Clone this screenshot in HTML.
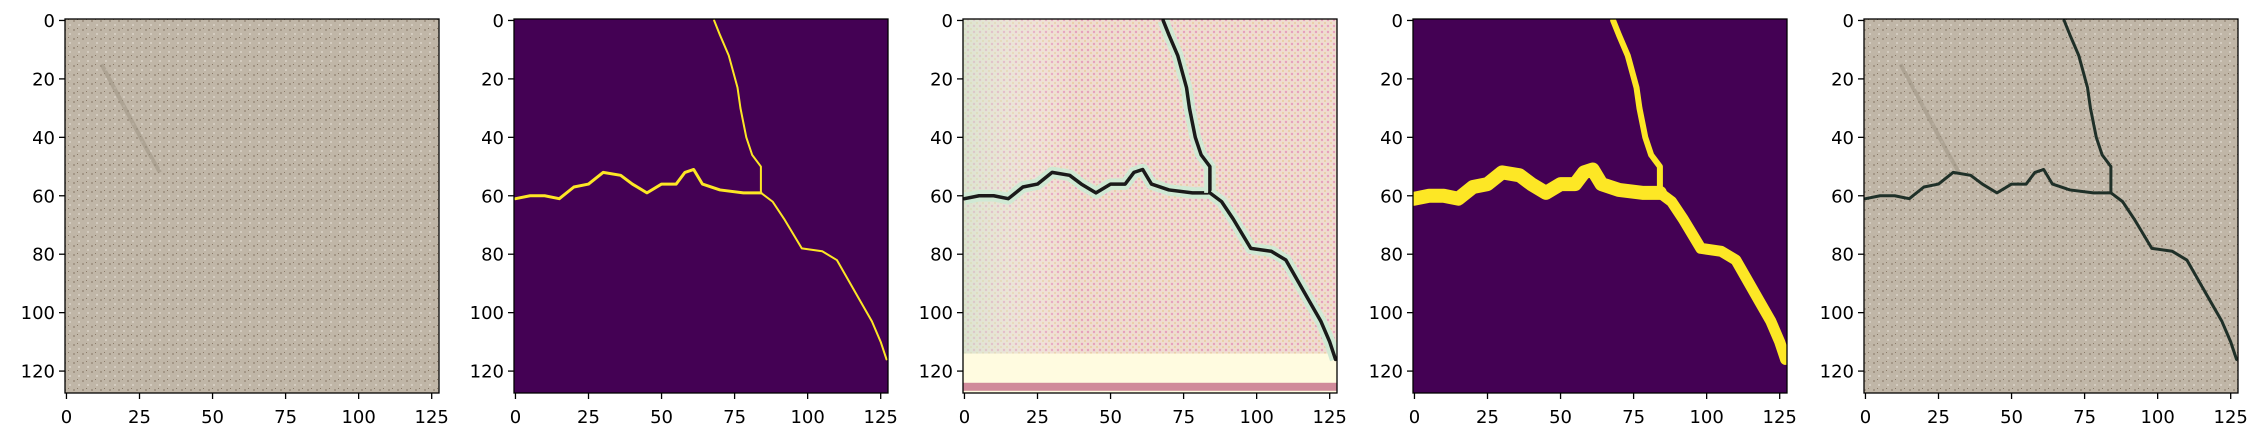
<!DOCTYPE html>
<html><head><meta charset="utf-8">
<style>
html,body{margin:0;padding:0;background:#fff;}
svg{display:block;}
text{font-family:"DejaVu Sans","Liberation Sans",sans-serif;font-size:18px;fill:#000;}
</style></head>
<body>
<svg id="fig" width="2259" height="440" viewBox="0 0 2259 440" xmlns="http://www.w3.org/2000/svg">
<defs>
<pattern id="speck" width="9" height="9" patternUnits="userSpaceOnUse">
<rect width="9" height="9" fill="#c0b6a7"/>
<rect x="1" y="2" width="2" height="2" fill="#a39686"/>
<rect x="6" y="6" width="2" height="2" fill="#d4ccc0"/>
<rect x="5" y="1" width="1" height="1" fill="#8a7a68"/>
</pattern>
<pattern id="dots" width="6" height="6" patternUnits="userSpaceOnUse">
<rect width="6" height="6" fill="#efdcd0"/>
<circle cx="2" cy="2" r="1.2" fill="#e6a0bc"/>
<circle cx="5" cy="5" r="1" fill="#e8cc9e"/>
</pattern>
<linearGradient id="greenish" x1="0" y1="0" x2="1" y2="0">
<stop offset="0" stop-color="#cfe8cf" stop-opacity="0.6"/>
<stop offset="0.3" stop-color="#ffffff" stop-opacity="0"/>
</linearGradient>
</defs>
</svg>
<script>
// Crack path (image data coordinates, x = column, y = row)
const mainCrackX = [0, 5, 10, 15, 20, 25, 30, 36, 40, 45, 50, 55, 58, 61, 64, 70, 78, 84];
const mainCrackY = [61, 60, 60, 61, 57, 56, 52, 53, 56, 59, 56, 56, 52, 51, 56, 58, 59, 59];
const upperCrackX = [84, 84, 81, 79, 77, 76, 73, 70, 68];
const upperCrackY = [59, 50, 46, 40, 30, 23, 12, 5, 0];
const lowerCrackX = [84, 88, 92, 95, 98, 105, 110, 114, 118, 122, 125, 127];
const lowerCrackY = [59, 62, 68, 73, 78, 79, 82, 89, 96, 103, 110, 116];
const xTicks = [0, 25, 50, 75, 100, 125];
const yTicks = [0, 20, 40, 60, 80, 100, 120];
const panelKinds = ["input", "label", "generated", "prediction", "overlay"];

const NS = "http://www.w3.org/2000/svg";
const svg = document.getElementById("fig");
const TOP = 19, SIZE = 374, N = 128;
const lefts = [65, 514, 963, 1413, 1864];
function mk(tag, attrs, parent){const e=document.createElementNS(NS,tag);for(const k in attrs)e.setAttribute(k,attrs[k]);(parent||svg).appendChild(e);return e;}
function pts(xs, ys, sx, sy){return xs.map((x,i)=>sx(x)+","+sy(ys[i])).join(" ");}

panelKinds.forEach((kind, p) => {
  const L = lefts[p];
  const sx = v => L + (v + 0.5) * SIZE / N;
  const sy = v => TOP + (v + 0.5) * SIZE / N;
  const g = mk("g", {});
  
  
  const clip = mk("clipPath", {id: "c" + p}, g);
  mk("rect", {x: L, y: TOP, width: SIZE, height: SIZE}, clip);
  const img = mk("g", {"clip-path": "url(#c" + p + ")"}, g);
  
  
  let bg = "#bcb2a3", stroke = null, w = 2;
  if (kind === "input") { bg = "url(#speck)"; }
  if (kind === "label") { bg = "#440154"; stroke = "#fde725"; w = 3; }
  if (kind === "prediction") { bg = "#440154"; stroke = "#fde725"; w = 14; }
  if (kind === "generated") { bg = "url(#dots)"; stroke = "#1a1a1a"; w = 3.5; }
  if (kind === "overlay") { bg = "url(#speck)"; stroke = "#1f3028"; w = 3; }
  mk("rect", {x: L, y: TOP, width: SIZE, height: SIZE, fill: bg}, img);
  if (kind === "input" || kind === "overlay") {
    mk("polyline", {points: pts([12, 20, 28, 32], [15, 30, 45, 52], sx, sy), fill: "none", stroke: "#9a8f80", "stroke-width": 4, opacity: 0.5}, img);
  }
  if (kind === "generated") {
    mk("rect", {x: L, y: TOP, width: SIZE, height: SIZE, fill: "url(#greenish)"}, img);
    mk("rect", {x: L, y: sy(114), width: SIZE, height: sy(127) - sy(114) + 3, fill: "#fffbe0"}, img);
    mk("rect", {x: L, y: sy(124), width: SIZE, height: 8, fill: "#b0406a", opacity: 0.6}, img);
  }
  if (stroke) {
    const sets = [[mainCrackX, mainCrackY], [upperCrackX, upperCrackY], [lowerCrackX, lowerCrackY]];
    sets.forEach((s, i) => {
      let sw = w;
      if (kind === "prediction" && i === 1) sw = 6;
      if (kind === "prediction" && i === 2) sw = 11;
      if (kind === "label" && i !== 0) sw = 2;
      if (kind === "generated") {
        const halo = mk("polyline", {points: pts(s[0], s[1], sx, sy), fill: "none", stroke: "#cfe9d4", "stroke-width": sw + 8, "stroke-linejoin": "round"}, img);
        
        
      }
      const pl = mk("polyline", {points: pts(s[0], s[1], sx, sy), fill: "none", stroke: stroke, "stroke-width": sw, "stroke-linejoin": "round", "stroke-linecap": "round"}, img);
      
      
    });
  }
  const frame = mk("rect", {x: L, y: TOP, width: SIZE, height: SIZE, fill: "none", stroke: "#000", "stroke-width": 1.3}, g);
  
  
  xTicks.forEach(t => {
    const x = sx(t);
    mk("line", {x1: x, y1: TOP + SIZE, x2: x, y2: TOP + SIZE + 6, stroke: "#000", "stroke-width": 1.3}, g);
    const tx = mk("text", {x: x, y: TOP + SIZE + 30, "text-anchor": "middle"}, g);
    tx.textContent = t;
    
    
  });
  yTicks.forEach(t => {
    const y = sy(t);
    mk("line", {x1: L, y1: y, x2: L - 6, y2: y, stroke: "#000", "stroke-width": 1.3}, g);
    const tx = mk("text", {x: L - 10, y: y + 6.5, "text-anchor": "end"}, g);
    tx.textContent = t;
    
    
  });
});
</script>
</body></html>
